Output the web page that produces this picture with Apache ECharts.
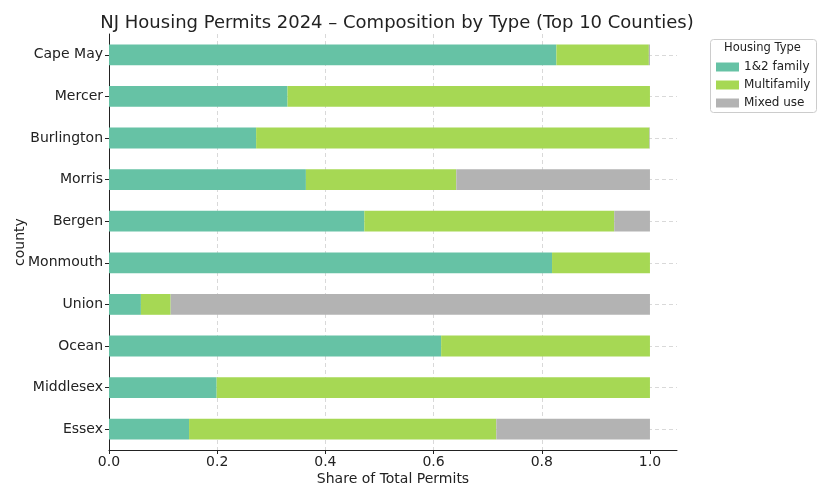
<!DOCTYPE html>
<html>
<head>
<meta charset="utf-8">
<script src="https://cdn.jsdelivr.net/npm/echarts@6/dist/echarts.min.js"></script>
<style>html,body{margin:0;padding:0;background:#fff}#c{width:833px;height:500px}</style>
</head>
<body>
<div id="c"></div>
<script>
const counties = ["Cape May","Mercer","Burlington","Morris","Bergen","Monmouth","Union","Ocean","Middlesex","Essex"];
const family12 = [0.827,0.330,0.272,0.364,0.472,0.819,0.059,0.614,0.199,0.148];
const multifamily = [0.171,0.670,0.727,0.278,0.462,0.181,0.055,0.386,0.801,0.568];
const mixedUse = [0.002,0.000,0.001,0.358,0.066,0.000,0.886,0.000,0.000,0.284];
const seriesNames = ["1&2 family","Multifamily","Mixed use"];
const xTicks = [0,0.2,0.4,0.6,0.8,1.0];

const font = "DejaVu Sans";
const chart = echarts.init(document.getElementById('c'), null, {renderer:'canvas'});
const colors = ['#66c2a5','#a6d854','#b3b3b3'];
const mk = (name, data, i) => ({
  name, type:'bar', stack:'total', data, barWidth:'50%',
  itemStyle:{color:colors[i]}, z:3
});
chart.setOption({
  animation:false,
  textStyle:{fontFamily:font},
  title:{
    text:'NJ Housing Permits 2024 – Composition by Type (Top 10 Counties)',
    left:392, top:9, textAlign:'center',
    textStyle:{fontFamily:font, fontSize:18, fontWeight:'normal', color:'#222'}
  },
  grid:{left:109, right:156, top:34, bottom:50, containLabel:false, outerBoundsMode:'none'},
  legend:{
    orient:'vertical', left:716, top:61, padding:0, itemWidth:23, itemHeight:9, itemGap:6,
    icon:'rect',
    textStyle:{fontFamily:font, fontSize:12, color:'#222'},
    data:seriesNames
  },
  graphic:[
    {type:'rect', left:710, top:39, shape:{width:106, height:73, r:3},
     style:{fill:'#fff', stroke:'#cccccc', lineWidth:1}, z:-1},
    {type:'text', left:724, top:42, style:{text:'Housing Type', font:'11.5px "DejaVu Sans"', fill:'#222'}}
  ],
  xAxis:{
    type:'value', min:0, max:1.05, interval:0.2,
    name:'Share of Total Permits', nameLocation:'middle', nameGap:22, nameMoveOverlap:false,
    nameTextStyle:{fontFamily:font, fontSize:14, color:'#222'},
    axisLine:{show:true, lineStyle:{color:'#222', width:1}},
    axisTick:{show:true, length:4, lineStyle:{color:'#222'}, customValues:xTicks},
    axisLabel:{fontFamily:font, fontSize:14, color:'#222', margin:5, customValues:xTicks,
      formatter:v=>v.toFixed(1)},
    splitLine:{show:true, showMaxLine:false, lineStyle:{color:'#d9d9d9', type:[4,3], width:1}}
  },
  yAxis:{
    type:'category', data:counties, inverse:true,
    name:'county', nameLocation:'middle', nameGap:82, nameRotate:90, nameMoveOverlap:false,
    nameTextStyle:{fontFamily:font, fontSize:14, color:'#222'},
    axisLine:{show:true, lineStyle:{color:'#222', width:1}},
    axisTick:{show:true, alignWithLabel:true, length:4, lineStyle:{color:'#222'}},
    axisLabel:{fontFamily:font, fontSize:14, color:'#222', margin:6},
    splitLine:{show:false}
  },
  series:[
    mk(seriesNames[0], family12, 0),
    mk(seriesNames[1], multifamily, 1),
    mk(seriesNames[2], mixedUse, 2),
    {type:'line', data:[], z:1, silent:true,
     markLine:{silent:true, z:1, symbol:'none', label:{show:false},
       lineStyle:{color:'#d9d9d9', type:[4,3], width:1},
       data:counties.map(c=>({yAxis:c}))}}
  ]
});
</script>
</body>
</html>
